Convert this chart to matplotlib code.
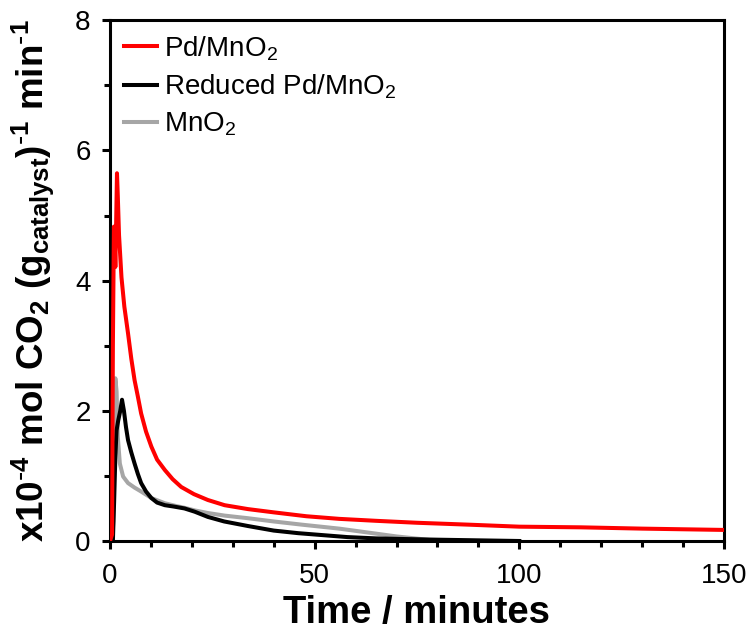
import matplotlib
matplotlib.use("Agg")
import matplotlib.pyplot as plt
from matplotlib.ticker import MultipleLocator

# Pd/MnO2
t_pd = [0, 0.5, 0.7, 0.95, 1.15, 1.3, 1.5, 1.7, 1.9, 2.2, 2.8, 3.5, 4.4, 5.2, 6.0,
        6.8, 7.6, 8.8, 10.1, 11.5, 13.4, 15.3, 17.4, 20.5, 23.9, 28, 33.7, 40, 48,
        56, 65, 75, 88, 100, 115, 130, 150]
v_pd = [0, 0.1, 3.0, 4.83, 4.6, 4.21, 4.9, 5.65, 5.3, 4.7, 4.05, 3.6, 3.19, 2.8, 2.47,
        2.22, 1.96, 1.68, 1.45, 1.25, 1.09, 0.95, 0.83, 0.72, 0.63, 0.55, 0.49, 0.44, 0.38,
        0.34, 0.31, 0.28, 0.25, 0.22, 0.21, 0.19, 0.17]

# Reduced Pd/MnO2
t_red = [0, 0.7, 1.0, 1.3, 1.6, 2.0, 2.5, 2.93, 3.4, 3.9, 4.4, 5.2, 6.0, 6.8, 7.6, 8.8,
         10.1, 11.5, 13.4, 15.5, 18.2, 20.7, 23.9, 27.9, 33.7, 40, 46, 52, 58, 65, 72,
         80, 90, 100]
v_red = [0, 0, 0.6, 1.3, 1.7, 1.85, 2.0, 2.17, 2.0, 1.75, 1.55, 1.36, 1.19, 1.03, 0.89,
         0.76, 0.66, 0.59, 0.55, 0.53, 0.50, 0.45, 0.37, 0.30, 0.23, 0.16, 0.12, 0.09,
         0.06, 0.04, 0.03, 0.02, 0.01, 0]

# MnO2
t_mn = [0, 0.5, 0.8, 1.0, 1.3, 1.6, 1.9, 2.4, 3.2, 4.4, 6.0, 7.6, 10.1, 13.4, 16, 18.2,
        20.7, 23.9, 28, 33.7, 40, 47, 56, 63, 70, 76, 80]
v_mn = [0, 0, 0.3, 1.5, 2.5, 2.3, 1.6, 1.19, 0.99, 0.89, 0.82, 0.76, 0.66, 0.58, 0.54,
        0.51, 0.47, 0.43, 0.39, 0.35, 0.30, 0.25, 0.19, 0.13, 0.07, 0.03, 0.0]

plt.rcParams["font.family"] = ["Liberation Sans", "DejaVu Sans"]
plt.rcParams["mathtext.default"] = "regular"

fig = plt.figure(figsize=(7.51, 6.34), dpi=100)
ax = fig.add_axes([0.1465, 0.1467, 0.8175, 0.8213])

lw = 2.9
l_mn, = ax.plot(t_mn, v_mn, color="#A6A6A6", lw=lw, zorder=2)
l_red, = ax.plot(t_red, v_red, color="black", lw=lw, zorder=3)
l_pd, = ax.plot(t_pd, v_pd, color="#FF0000", lw=lw, zorder=4)

ax.set_xlim(0, 150)
ax.set_ylim(0, 8)
ax.xaxis.set_major_locator(MultipleLocator(50))
ax.xaxis.set_minor_locator(MultipleLocator(10))
ax.yaxis.set_major_locator(MultipleLocator(2))
ax.yaxis.set_minor_locator(MultipleLocator(1))

for s in ax.spines.values():
    s.set_linewidth(2.2)
ax.tick_params(which="major", direction="out", length=6, width=2.2, labelsize=20, pad=8)
ax.tick_params(axis="x", which="major", pad=10)
ax.tick_params(which="minor", direction="out", length=4, width=2.2)

ax.set_xlabel("Time / minutes", fontsize=27.5, fontweight="bold", labelpad=4)
ax.set_ylabel(r"x10$^{\text{-}4}$ mol CO$_2$ (g$_{catalyst}$)$^{\text{-}1}$ min$^{\text{-}1}$",
              fontsize=26.5, fontweight="bold", labelpad=14)

ax.legend([l_pd, l_red, l_mn], ["Pd/MnO$_2$", "Reduced Pd/MnO$_2$", "MnO$_2$"],
          loc="upper left", frameon=False, fontsize=20, handlelength=1.2,
          handletextpad=0.25, labelspacing=0.35, borderaxespad=0.2,
          borderpad=0.3)

fig.savefig("out.png", dpi=100)
